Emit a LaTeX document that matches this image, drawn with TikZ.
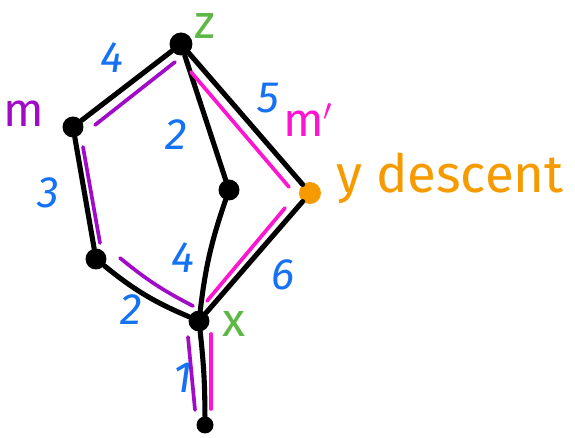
\documentclass[tikz,border=0pt]{standalone}
\usepackage{fontspec}
\setmainfont{Fira Sans}
\usepackage{xcolor}
\definecolor{purp}{HTML}{A00BC8}
\definecolor{pinkm}{HTML}{FF14CF}
\definecolor{wblue}{HTML}{1672F5}
\definecolor{zgreen}{HTML}{5DB845}
\definecolor{yorange}{HTML}{F59B00}

\begin{document}
\begin{tikzpicture}[x=0.02cm,y=-0.02cm,
  dot/.style={circle,fill=black,inner sep=0pt,minimum size=0.42cm},
  edge/.style={line width=2.9pt,line cap=round,line join=round},
  hl/.style={line width=2.1pt,line cap=round},
  wt/.style={text=wblue,font=\fontsize{25}{26}\selectfont\itshape},
  lbl/.style={font=\fontsize{27}{28}\selectfont}]
\useasboundingbox (0,0) rectangle (575,438);
% vertices
\node[dot,minimum size=0.46cm] (z) at (181,44) {};
\node[dot] (m) at (73,127) {};
\node[dot] (w) at (229,190) {};
\node[dot,fill=yorange,minimum size=0.44cm] (y) at (310,193) {};
\node[dot] (l) at (96,259) {};
\node[dot] (x) at (199,321) {};
\node[dot,minimum size=0.34cm] (b) at (205,425) {};
% edges
\draw[edge] (z) -- (m);
\draw[edge] (m) -- (l);
\draw[edge] (l) to[bend right=8] (x);
\draw[edge] (z) -- (w);
\draw[edge] (w) to[bend right=6] (x);
\draw[edge] (z) -- (y);
\draw[edge] (y) -- (x);
\draw[edge] (x) to[bend left=3] (b);
% purple path
\coordinate (p1) at (175,62);  \coordinate (p2) at (95,125);
\coordinate (p3) at (83,147);  \coordinate (p4) at (100,243);
\coordinate (p5) at (120,258); \coordinate (p6) at (193,306);
\coordinate (p7) at (188,337); \coordinate (p8) at (195,410);
\draw[hl,purp] (p1) -- (p2);
\draw[hl,purp] (p3) -- (p4);
\draw[hl,purp] (p5) to[bend right=6] (p6);
\draw[hl,purp] (p7) -- (p8);
% pink path
\coordinate (q1) at (191,72);  \coordinate (q2) at (289,187);
\coordinate (q3) at (207,301); \coordinate (q4) at (285,208);
\coordinate (q5) at (211,334); \coordinate (q6) at (211,409);
\draw[hl,pinkm] (q1) -- (q2);
\draw[hl,pinkm] (q3) -- (q4);
\draw[hl,pinkm] (q5) -- (q6);
% weights
\node[wt] (w1) at (112,58) {4};
\node[wt] (w2) at (176,135) {2};
\node[wt] (w3) at (268,98) {5};
\node[wt] (w4) at (48,193) {3};
\node[wt] (w5) at (183,258) {4};
\node[wt] (w6) at (131,310) {2};
\node[wt] (w7) at (283,275) {6};
\node[wt] (w8) at (183,378) {1};
% names
\node[lbl,text=zgreen] (zl) at (205,26) {z};
\node[lbl,text=zgreen] (xl) at (234,324) {x};
\node[lbl,text=purp] (ml) at (24,114) {m};
\node[lbl,text=pinkm] (mp) at (308,120) {m$'$};
\node[lbl,text=yorange,font=\fontsize{30}{32}\selectfont,anchor=west] (yl) at (330,178) {y descent};
\end{tikzpicture}
\end{document}
